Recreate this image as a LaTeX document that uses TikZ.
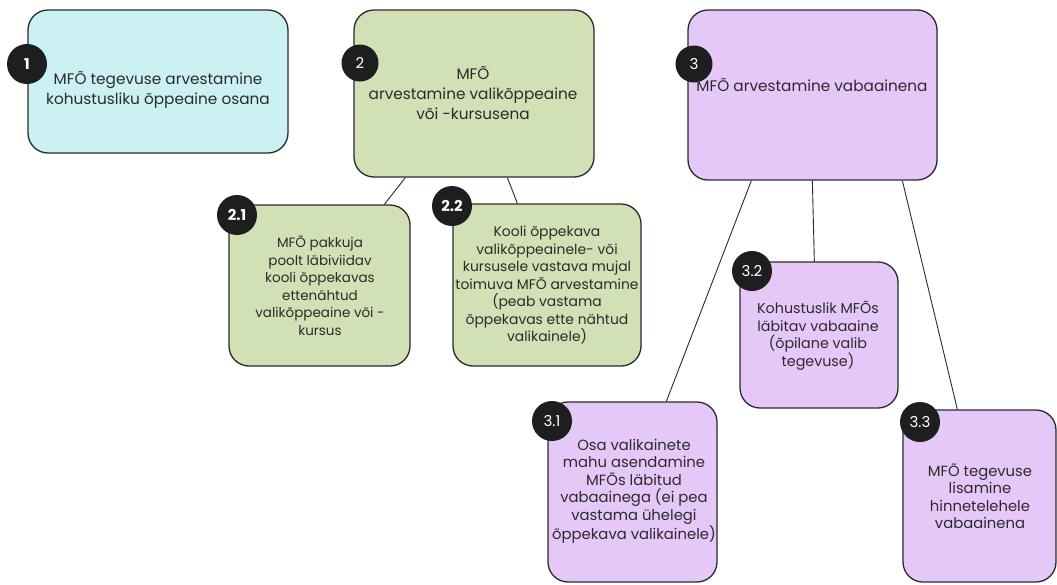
\documentclass[tikz,border=0pt]{standalone}
\usepackage{fontspec}
\setmainfont{Poppins}
\usetikzlibrary{calc}
\definecolor{cyanbox}{HTML}{CCF1F2}
\definecolor{greenbox}{HTML}{D1E0B5}
\definecolor{purplebox}{HTML}{E5C8F7}
\definecolor{ink}{HTML}{2B2B2B}
\definecolor{badgefill}{HTML}{1E1E1E}
\begin{document}
\begin{tikzpicture}[x=1pt,y=-1pt,
  card/.style={draw=ink, line width=1.3pt, rounded corners=20pt, inner sep=0pt},
  bigtext/.style={text=ink, align=center, font=\fontsize{15.3}{20}\selectfont, inner sep=0pt},
  smalltext/.style={text=ink, align=center, font=\fontsize{#1}{17.5}\selectfont, inner sep=0pt},
  badge/.style={circle, fill=badgefill, text=white, inner sep=0pt, minimum size=37pt, font=\fontsize{15}{15}\selectfont},
  badgeb/.style={badge, minimum size=40pt, font=\fontsize{15}{15}\selectfont\bfseries},
  link/.style={draw=ink, line width=0.9pt}]
\useasboundingbox[fill=white] (0,0) rectangle (1057,584);

% cards
\node[card, fill=cyanbox, minimum width=260pt, minimum height=143pt] (b1) at (158,81.5) {};
\node[card, fill=greenbox, minimum width=240pt, minimum height=167pt] (b2) at (474,93.5) {};
\node[card, fill=purplebox, minimum width=249pt, minimum height=170pt] (b3) at (812.5,95) {};
\node[card, fill=greenbox, minimum width=181pt, minimum height=161pt] (b21) at (319.5,285.5) {};
\node[card, fill=greenbox, minimum width=188pt, minimum height=162pt] (b22) at (547,285) {};
\node[card, fill=purplebox, minimum width=169pt, minimum height=180pt] (b31) at (632.5,492) {};
\node[card, fill=purplebox, minimum width=158pt, minimum height=146pt] (b32) at (819,335) {};
\node[card, fill=purplebox, minimum width=153pt, minimum height=172pt] (b33) at (979.5,496) {};

% connectors
\draw[link] ($(b2.south west)+(52,0)$) -- ($(b21.north west)+(156,0)$);
\draw[link] ($(b2.south west)+(154,0)$) -- ($(b22.north west)+(65,0)$);
\draw[link] ($(b3.south west)+(64,0)$) -- ($(b31.north west)+(119,0)$);
\draw[link] ($(b3.south west)+(125,0)$) -- ($(b32.north west)+(75,0)$);
\draw[link] ($(b3.south west)+(215,0)$) -- ($(b33.north west)+(55,0)$);

% badges
\node[badgeb] (n1) at (27,64) {1};
\node[badge] (n2) at (360,63) {2};
\node[badge] (n3) at (694,64) {3};
\node[badgeb] (n21) at (237,215) {2.1};
\node[badgeb] (n22) at (452,206) {2.2};
\node[badge, minimum size=40pt] (n31) at (552,421) {3.1};
\node[badge, minimum size=40pt] (n32) at (752,271) {3.2};
\node[badge, minimum size=40pt] (n33) at (920,422) {3.3};

% texts
\node[bigtext] (t1) at (158,90) {MFÕ tegevuse arvestamine\\kohustusliku õppeaine osana};
\node[bigtext] (t2) at (473,93) {MFÕ\\arvestamine valikõppeaine\\või -kursusena};
\node[bigtext] (t3) at (812,85) {MFÕ arvestamine vabaainena};
\node[smalltext=13.5] (t21) at (320,286) {MFÕ pakkuja\\poolt läbiviidav\\kooli õppekavas\\ettenähtud\\valikõppeaine või -\\kursus};
\node[smalltext=13.9] (t22) at (547,285) {Kooli õppekava\\valikõppeainele- või\\kursusele vastava mujal\\toimuva MFÕ arvestamine\\(peab vastama\\õppekavas ette nähtud\\valikainele)};
\node[smalltext=14.8] (t31) at (634,491) {Osa valikainete\\mahu asendamine\\MFÕs läbitud\\vabaainega (ei pea\\vastama ühelegi\\õppekava valikainele)};
\node[smalltext=14.3] (t32) at (818,336) {Kohustuslik MFÕs\\läbitav vabaaine\\(õpilane valib\\tegevuse)};
\node[smalltext=14.8] (t33) at (980,496) {MFÕ tegevuse\\lisamine\\hinnetelehele\\vabaainena};
\end{tikzpicture}
\end{document}
